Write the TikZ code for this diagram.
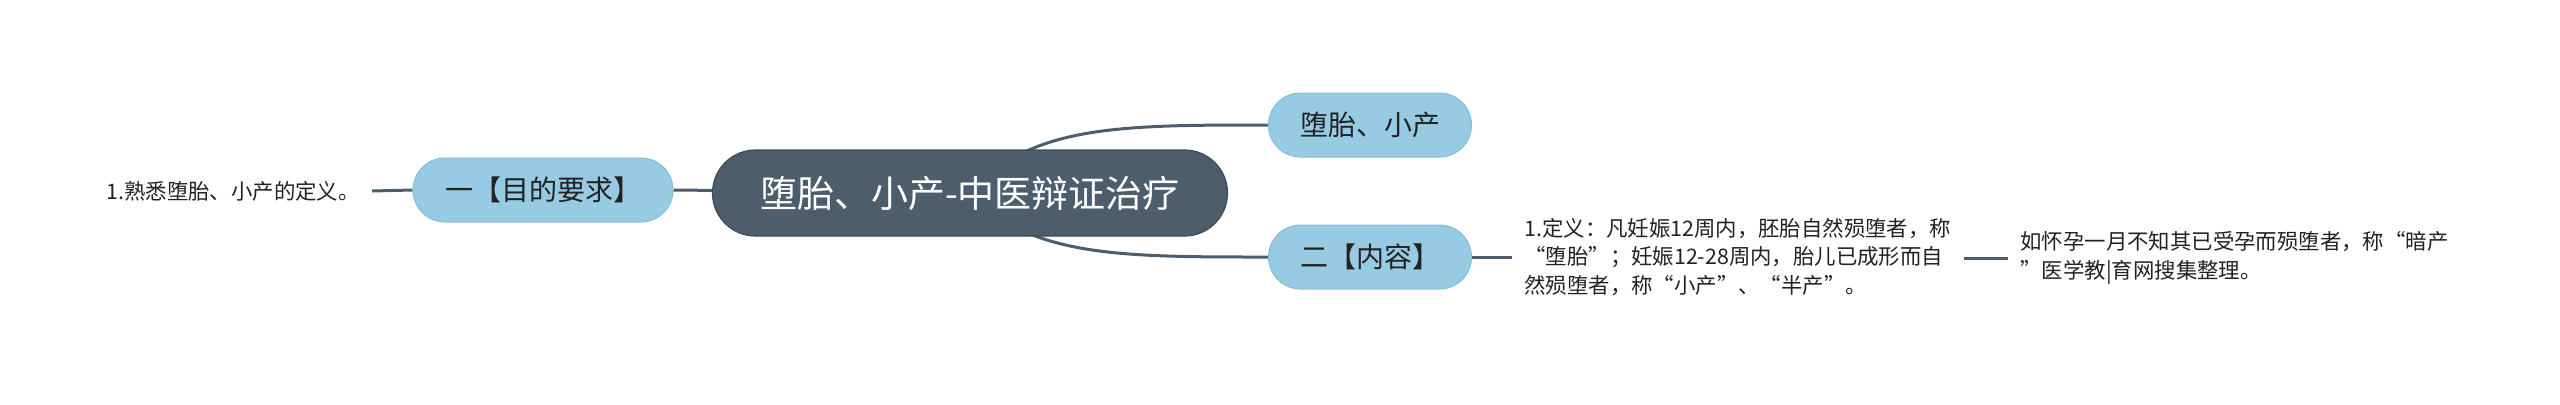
\documentclass[tikz,border=0pt]{standalone}
\usepackage{fontspec}
\setmainfont{Noto Sans CJK SC}
\usepackage{tikz}
\usetikzlibrary{backgrounds}
\definecolor{slate}{HTML}{4E5D6C}
\definecolor{slateedge}{HTML}{3E4A56}
\definecolor{skyfill}{HTML}{96CBE3}
\definecolor{skyedge}{HTML}{86BDD8}
\definecolor{inktext}{HTML}{222222}

\begin{document}
\begin{tikzpicture}[x=0.5pt,y=-0.5pt,
	rootnode/.style={draw=slateedge, line width=0.6pt, fill=slate, text=white, rounded corners=21.5pt,
		minimum width=257.5pt, minimum height=43pt, font=\fontsize{18.5}{22}\selectfont},
	topicnode/.style={draw=skyedge, line width=0.5pt, fill=skyfill, text=inktext, rounded corners=16pt,
		minimum height=32pt, font=\fontsize{14}{17}\selectfont},
	leafnode/.style={text=inktext, inner xsep=6pt, inner ysep=2pt, align=left,
		font=\fontsize{10.7}{14.3}\selectfont},
	branch/.style={draw=slate, line width=1.5pt}]
	%\draw [help lines] (0,0) grid (2560,404);
	\useasboundingbox (0,0) rectangle (2560,404);
	\node [rootnode] (root) at (970,193) {堕胎、小产-中医辩证治疗};
	\node [topicnode, minimum width=130pt] (aim) at (543,190) {一【目的要求】};
	\node [topicnode, minimum width=101.5pt] (term) at (1370,125) {堕胎、小产};
	\node [topicnode, minimum width=101.5pt] (content) at (1370,257) {二【内容】};
	\node [leafnode, anchor=east] (aimtext) at (372,191) {1.熟悉堕胎、小产的定义。};
	\node [leafnode, anchor=west] (define) at (1512,257)
		{1.定义：凡妊娠12周内，胚胎自然殒堕者，称\\“堕胎”；妊娠12-28周内，胎儿已成形而自\\然殒堕者，称“小产”、“半产”。};
	\node [leafnode, anchor=west] (hidden) at (2008,258)
		{如怀孕一月不知其已受孕而殒堕者，称“暗产\\”医学教|育网搜集整理。};
	\begin{scope}[on background layer]
		\draw [branch] (root.center) .. controls (1030,125) and (1120,125) .. (term.west);
		\draw [branch] (root.center) .. controls (1030,257) and (1120,257) .. (content.west);
		\draw [branch] (root.center) -- (aim.east);
		\draw [branch] (aim.west) -- (aimtext.east);
		\draw [branch] (content.east) -- (define.west);
		\draw [branch] (define.east |- hidden.west) -- (hidden.west);
	\end{scope}
\end{tikzpicture}
\end{document}
